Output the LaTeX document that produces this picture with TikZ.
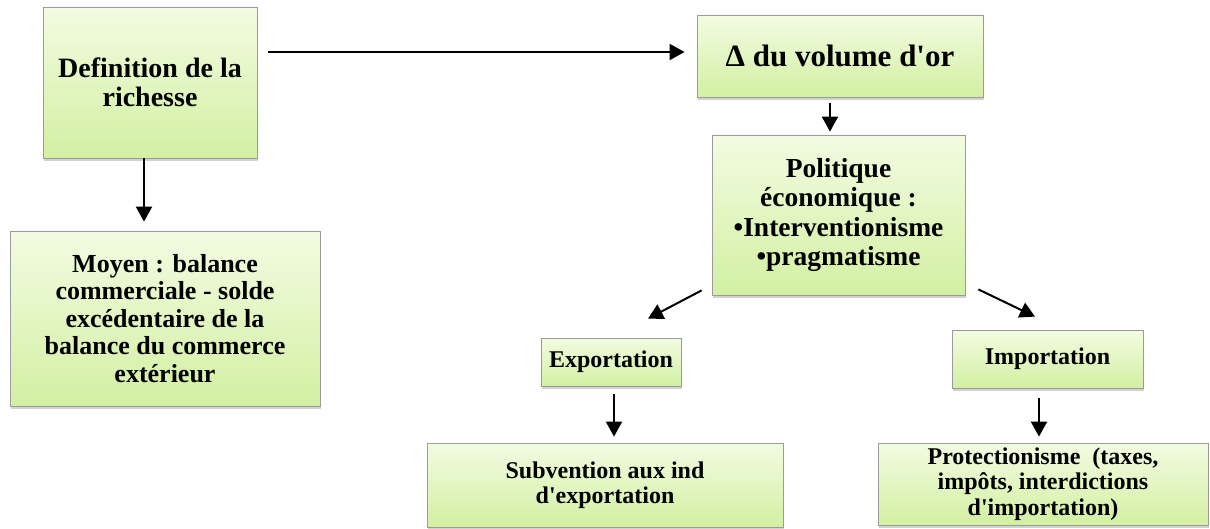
\documentclass[tikz,border=0pt]{standalone}
\usepackage{fontspec}
\setmainfont{Liberation Serif}[Ligatures=TeXOff]
\usetikzlibrary{arrows.meta,shadows,calc}
\definecolor{boxtop}{RGB}{243,251,226}
\definecolor{boxbot}{RGB}{210,240,162}
\definecolor{boxline}{RGB}{155,155,155}
\begin{document}
\begin{tikzpicture}[x=1pt,y=-1pt,
  gbox/.style={rectangle, draw=boxline, line width=0.8pt, top color=boxtop, bottom color=boxbot,
    align=center, inner sep=0pt,
    drop shadow={opacity=0.35, shadow xshift=1.2pt, shadow yshift=-2.5pt}},
  fs/.style 2 args={font=\bfseries\fontsize{#1}{#2}\selectfont},
  arr/.style={line width=2pt, -{Triangle[length=15pt,width=16pt]}}]
\useasboundingbox (0,0) rectangle (1210,528);
\fill[white] (0,0) rectangle (1210,528);

\node[gbox, fs={28}{29}, minimum width=214pt, minimum height=151pt] (def) at (150,82.5)
  {Definition de la\\richesse};
\node[gbox, fs={26}{27.5}, minimum width=310pt, minimum height=175pt] (moy) at (165,318.5)
  {Moyen : balance\\commerciale - solde\\excédentaire de la\\balance du commerce\\extérieur};
\node[gbox, fs={31}{33}, minimum width=286pt, minimum height=82pt] (vol) at (840,56)
  {Δ du volume d'or};
\node[gbox, fs={27.5}{29.5}, minimum width=253pt, minimum height=160pt] (pol) at (838.5,215)
  {Politique\\économique :\\•Interventionisme\\•pragmatisme};
\node[gbox, fs={24}{26}, minimum width=140pt, minimum height=48pt] (exp) at (611,362)
  {Exportation};
\node[gbox, fs={24}{26}, minimum width=191pt, minimum height=58pt] (imp) at (1047.5,359)
  {Importation};
\node[gbox, fs={24}{25}, minimum width=356pt, minimum height=84pt] (sub) at (605,485)
  {Subvention aux ind\\d'exportation};
\node[gbox, fs={24}{25.5}, minimum width=330pt, minimum height=82pt] (pro) at (1043,484)
  {Protectionisme\ \ (taxes,\\impôts, interdictions\\d'importation)};

% connector end points
\coordinate (defR) at ($(def.east)+(11,-30.5)$);
\coordinate (volL) at ($(vol.west)+(-12,-4)$);
\coordinate (defB) at ($(def.south)+(-6,0)$);
\coordinate (moyT) at ($(moy.north)+(-21,-9)$);
\coordinate (volB) at ($(vol.south)+(-10,6)$);
\coordinate (polT) at ($(pol.north)+(-8.5,-3)$);
\coordinate (polL) at ($(pol.south west)+(-10,-5)$);
\coordinate (expT) at ($(exp.north)+(37,-19)$);
\coordinate (polR) at ($(pol.south east)+(13,-6)$);
\coordinate (impT) at ($(imp.north)+(-12.5,-13)$);
\coordinate (expB) at ($(exp.south)+(3,8)$);
\coordinate (subT) at ($(sub.north)+(9,-6)$);
\coordinate (impB) at ($(imp.south)+(-8.5,10)$);
\coordinate (proT) at ($(pro.north)+(-4,-6)$);

\draw[arr] (defR) -- (volL);
\draw[arr] (defB) -- (moyT);
\draw[arr] (volB) -- (polT);
\draw[arr] (polL) -- (expT);
\draw[arr] (polR) -- (impT);
\draw[arr] (expB) -- (subT);
\draw[arr] (impB) -- (proT);
\end{tikzpicture}
\end{document}
